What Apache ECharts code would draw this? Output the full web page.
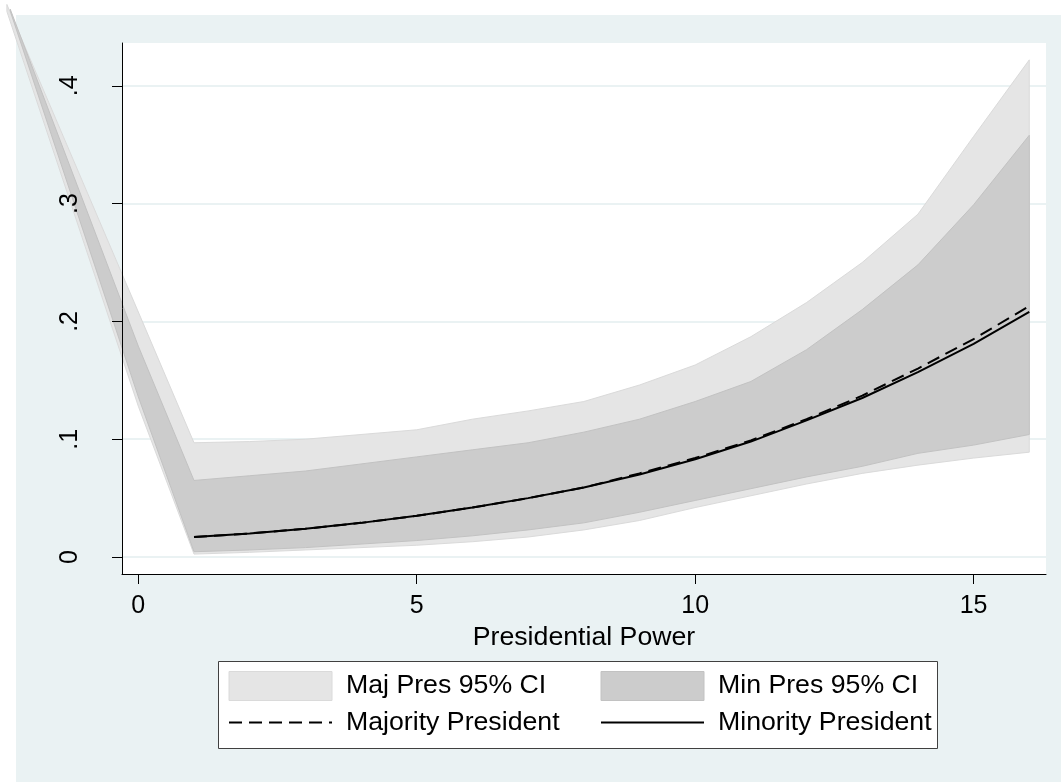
<!DOCTYPE html>
<html><head><meta charset="utf-8">
<script src="https://cdn.jsdelivr.net/npm/echarts@6/dist/echarts.min.js"></script>
<style>
html,body{margin:0;padding:0;background:#ffffff;}
#bg{position:absolute;left:16px;top:15px;width:1045px;height:767px;background:#eaf2f3;}
#chart{position:absolute;left:0;top:0;width:1061px;height:782px;}
</style></head><body>
<div id="bg"></div><div id="chart"></div>
<script>
// ---- data ----
const xMaj     = [-2.36, 0, 1, 2, 3, 4, 5, 6, 7, 8, 9, 10, 11, 12, 13, 14, 15, 16];
const majLower = [0.463, 0.128, 0.0025, 0.004, 0.006, 0.008, 0.010, 0.013, 0.017, 0.023, 0.031, 0.042, 0.052, 0.062, 0.071, 0.078, 0.084, 0.089];
const majUpper = [0.469, 0.208, 0.097, 0.098, 0.100, 0.104, 0.108, 0.117, 0.124, 0.132, 0.146, 0.163, 0.187, 0.216, 0.250, 0.291, 0.357, 0.422];
const xMin     = [-2.3, 0, 1, 2, 3, 4, 5, 6, 7, 8, 9, 10, 11, 12, 13, 14, 15, 16];
const minLower = [0.4635, 0.136, 0.0045, 0.006, 0.008, 0.011, 0.014, 0.018, 0.023, 0.029, 0.038, 0.048, 0.058, 0.068, 0.077, 0.088, 0.095, 0.104];
const minUpper = [0.4650, 0.179, 0.065, 0.069, 0.073, 0.079, 0.085, 0.091, 0.097, 0.106, 0.117, 0.132, 0.149, 0.176, 0.210, 0.248, 0.299, 0.358];
const xLine    = [1, 2, 3, 4, 5, 6, 7, 8, 9, 10, 11, 12, 13, 14, 15, 16];
const majority = [0.017, 0.020, 0.024, 0.029, 0.035, 0.042, 0.050, 0.059, 0.071, 0.084, 0.099, 0.117, 0.137, 0.160, 0.185, 0.213];
const minority = [0.017, 0.020, 0.024, 0.029, 0.035, 0.042, 0.050, 0.059, 0.070, 0.083, 0.098, 0.116, 0.135, 0.157, 0.181, 0.208];
const xTicks = [0, 5, 10, 15];
const yTicks = [0, 0.1, 0.2, 0.3, 0.4];
const names = ['Maj Pres 95% CI', 'Min Pres 95% CI', 'Majority President', 'Minority President'];

const FONT = 'Liberation Sans, Arial, Helvetica, sans-serif';
const LIGHT = '#e5e5e5', LIGHT_EDGE = '#dadada';
const DARK = '#cccccc', DARK_EDGE = '#c2c2c2';
const Y_MIN = -0.0144, Y_MAX = 0.4363;

function pairs(xs, ys) { return xs.map((x, i) => [x, ys[i]]); }

// band polygon drawn through the library's coordinate system
function bandRenderer(xs, lo, hi, fill, edge) {
  return function (params, api) {
    const top = xs.map((x, i) => api.coord([x, hi[i]]));
    const bot = xs.map((x, i) => api.coord([x, lo[i]])).reverse();
    return {
      type: 'polygon',
      shape: {points: top.concat(bot)},
      style: {fill: fill, stroke: edge, lineWidth: 1}
    };
  };
}

const chart = echarts.init(document.getElementById('chart'), null, {renderer: 'canvas'});
chart.setOption({
  animation: false,
  backgroundColor: 'transparent',
  grid: {left: 122, right: 15, top: 43, bottom: 208, show: true, backgroundColor: '#ffffff', borderWidth: 0, containLabel: false, outerBoundsMode: 'none'},
  xAxis: {
    type: 'value', min: -0.293, max: 16.3, z: 5,
    axisLine: {show: true, onZero: false, lineStyle: {color: '#000', width: 1}},
    axisTick: {show: true, length: 10, customValues: xTicks, lineStyle: {color: '#000', width: 1}},
    axisLabel: {customValues: xTicks, fontSize: 25, color: '#000', margin: 20, fontFamily: FONT},
    splitLine: {show: false},
    name: 'Presidential Power', nameLocation: 'middle', nameGap: 44,
    nameTextStyle: {fontSize: 26.7, color: '#000', fontFamily: FONT}
  },
  yAxis: [
    {
      type: 'value', min: Y_MIN, max: Y_MAX, z: 5, position: 'left',
      axisLine: {show: true, onZero: false, lineStyle: {color: '#000', width: 1}},
      axisTick: {show: true, length: 10, customValues: yTicks, lineStyle: {color: '#000', width: 1}},
      axisLabel: {customValues: yTicks, rotate: 90, margin: 39, fontSize: 25, color: '#000', fontFamily: FONT,
        formatter: v => v === 0 ? '0' : v.toFixed(1).replace(/^0/, '')},
      splitLine: {show: false}
    },
    {
      // grid lines only, kept beneath the bands
      type: 'value', min: Y_MIN, max: Y_MAX, z: 0, position: 'left',
      axisLine: {show: false, onZero: false}, axisTick: {show: false, customValues: yTicks},
      axisLabel: {show: false, customValues: yTicks},
      splitLine: {show: true, lineStyle: {color: '#eaf2f3', width: 2}}
    }
  ],
  legend: [
    {left: 228, top: 671, orient: 'vertical', padding: 0, itemWidth: 103, itemHeight: 29, itemGap: 8,
     selectedMode: false,
     textStyle: {fontSize: 26.7, color: '#000', fontFamily: FONT, padding: [0, 0, 0, 9]},
     data: [{name: names[0], icon: 'rect', itemStyle: {color: LIGHT, borderColor: LIGHT_EDGE, borderWidth: 1}},
            {name: names[2], itemStyle: {opacity: 0}}]},
    {left: 600, top: 671, orient: 'vertical', padding: 0, itemWidth: 103, itemHeight: 29, itemGap: 8,
     selectedMode: false,
     textStyle: {fontSize: 26.7, color: '#000', fontFamily: FONT, padding: [0, 0, 0, 9]},
     data: [{name: names[1], icon: 'rect', itemStyle: {color: DARK, borderColor: DARK_EDGE, borderWidth: 1}},
            {name: names[3], itemStyle: {opacity: 0}}]}
  ],
  graphic: [{
    type: 'rect', z: 0, silent: true,
    shape: {x: 218.5, y: 661.5, width: 719, height: 87},
    style: {fill: '#ffffff', stroke: '#404040', lineWidth: 1}
  }],
  series: [
    {name: names[0], type: 'custom', clip: false, silent: true, yAxisIndex: 0,
     data: [[xMaj[0], majLower[0]]],
     itemStyle: {color: LIGHT},
     renderItem: bandRenderer(xMaj, majLower, majUpper, LIGHT, LIGHT_EDGE)},
    {name: names[1], type: 'custom', clip: false, silent: true, yAxisIndex: 0,
     data: [[xMin[0], minLower[0]]],
     itemStyle: {color: DARK},
     renderItem: bandRenderer(xMin, minLower, minUpper, DARK, DARK_EDGE)},
    {name: names[2], type: 'line', data: pairs(xLine, majority), symbol: 'none', showSymbol: false, yAxisIndex: 0,
     lineStyle: {color: '#000', width: 2, type: [13, 7]}, itemStyle: {color: '#000'}},
    {name: names[3], type: 'line', data: pairs(xLine, minority), symbol: 'none', showSymbol: false, yAxisIndex: 0,
     lineStyle: {color: '#000', width: 2, type: 'solid'}, itemStyle: {color: '#000'}}
  ]
});
</script>
</body></html>
